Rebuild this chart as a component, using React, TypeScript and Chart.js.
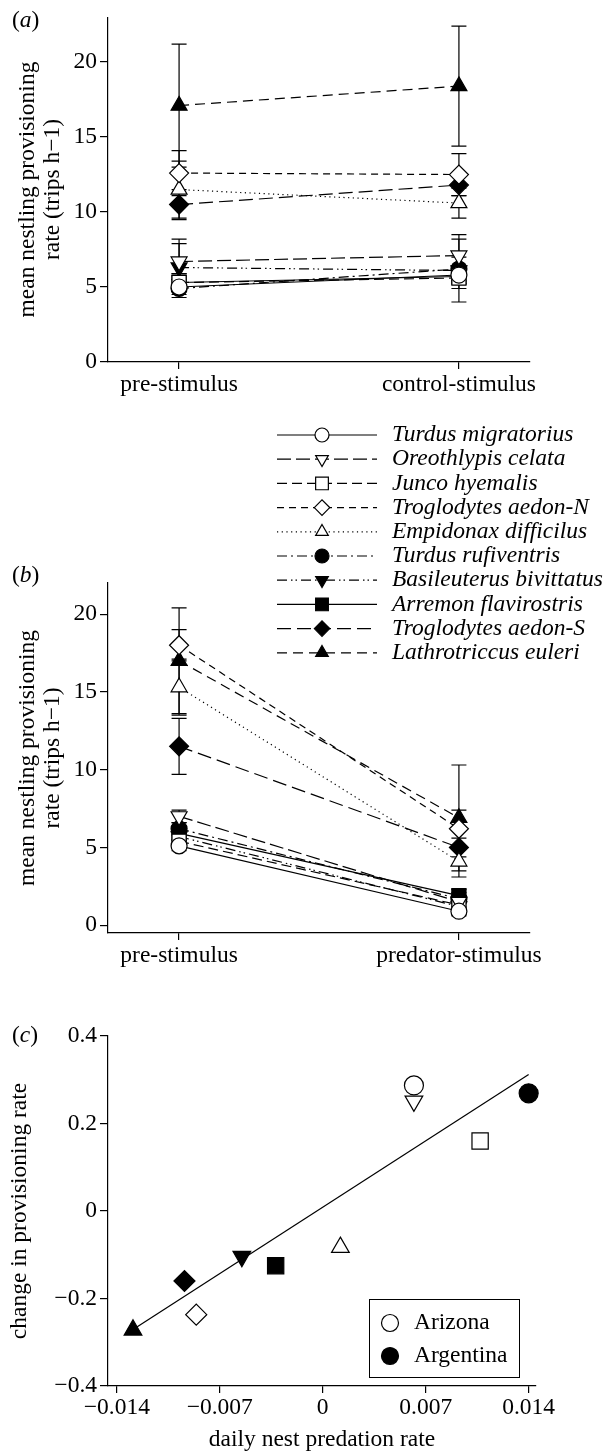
import React, { useEffect, useRef } from "react";
import { Chart, registerables } from "chart.js";
import { drawPoint } from "chart.js/helpers";

Chart.register(...registerables);

// ---------------- data ----------------
const species = [
  "Turdus migratorius",
  "Oreothlypis celata",
  "Junco hyemalis",
  "Troglodytes aedon-N",
  "Empidonax difficilus",
  "Turdus rufiventris",
  "Basileuterus bivittatus",
  "Arremon flavirostris",
  "Troglodytes aedon-S",
  "Lathrotriccus euleri",
];
const speciesRegion = [
  "Arizona", "Arizona", "Arizona", "Arizona", "Arizona",
  "Argentina", "Argentina", "Argentina", "Argentina", "Argentina",
];
const markerShapes = ["circle", "triangle", "rect", "rectRot", "triangle", "circle", "triangle", "rect", "rectRot", "triangle"];
const markerRotations = [0, 180, 0, 0, 0, 0, 180, 0, 0, 0];
const lineDashes: number[][] = [
  [],
  [14, 5],
  [10, 5],
  [7, 5],
  [1.2, 3.5],
  [10, 4, 2, 4],
  [10, 4, 1.5, 3, 1.5, 4],
  [],
  [14, 6],
  [10, 6],
];

const conditionLabelsA = ["pre-stimulus", "control-stimulus"];
const conditionLabelsB = ["pre-stimulus", "predator-stimulus"];
const yTicksAB = [0, 5, 10, 15, 20];
const yTitleAB = ["mean nestling provisioning", "rate (trips h\u22121)"];

// panel (a)
const preA = [5.0, 6.7, 5.3, 12.6, 11.5, 4.9, 6.3, 5.3, 10.5, 17.1];
const preAErr = [0.5, 1.5, 0.6, 1.5, 1.9, 0.6, 1.6, 0.6, 1.0, 4.1];
const controlA = [5.8, 7.1, 5.6, 12.5, 10.6, 6.2, 6.1, 5.7, 11.8, 18.4];
const controlAErr = [0.6, 1.4, 0.7, 1.4, 1.0, 0.8, 2.1, 0.5, 0.7, 4.0];

// panel (b)
const preB = [5.1, 7.0, 5.4, 18.0, 15.3, 6.2, 5.7, 5.9, 11.5, 17.0];
const preBErr = [0.3, 0.4, 0.4, 1.0, 1.8, 0.4, 0.4, 0.4, 1.8, 3.4];
const predatorB = [0.9, 1.5, 1.3, 6.2, 4.1, 1.7, 1.2, 1.9, 5.0, 6.9];
const predatorBErr = [0.3, 0.4, 0.4, 1.2, 1.0, 0.4, 0.3, 0.4, 0.6, 3.4];

// panel (c)
const predationRate = [0.0062, 0.0062, 0.0107, -0.0086, 0.0012, 0.014, -0.0055, -0.0032, -0.0094, -0.0129];
const provisioningChange = [0.287, 0.251, 0.16, -0.237, -0.083, 0.269, -0.104, -0.125, -0.16, -0.272];
const fitLineX = [-0.0129, 0.014];
const fitLineY = [-0.271, 0.312];
const xTicksC = [-0.014, -0.007, 0, 0.007, 0.014];
const yTicksC = [-0.4, -0.2, 0, 0.2, 0.4];
const legendRegions = ["Arizona", "Argentina"];
const legendRegionFilled = [false, true];

// ---------------- styling ----------------
const FONT = "'Liberation Serif', 'Times New Roman', serif";
const FS = 23.5;
const BLACK = "#000";
const LW = 1.2;

const radiusAB: Record<string, number> = { circle: 8, triangle: 9.2, rect: 10, rectRot: 9.5 };
const radiusLegend: Record<string, number> = { circle: 7, triangle: 7.3, rect: 9, rectRot: 7.7 };
const radiusC: Record<string, number> = { circle: 9.5, triangle: 10.2, rect: 11.5, rectRot: 10.5 };

const isFilled = (i: number) => speciesRegion[i] === "Argentina";

const fmt = (v: number) => {
  const r = Math.round(v * 1000) / 1000;
  if (r === 0) return "0";
  return r < 0 ? "\u2212" + String(Math.abs(r)) : String(r);
};

const tickFont = { family: FONT, size: FS };

function errorBarPlugin(errs: number[][]) {
  return {
    id: "errorBars",
    beforeDatasetsDraw(chart: any) {
      const { ctx, scales } = chart;
      const xs = scales.x;
      const ys = scales.y;
      ctx.save();
      ctx.setLineDash([]);
      ctx.strokeStyle = BLACK;
      ctx.lineWidth = LW;
      chart.data.datasets.forEach((ds: any, i: number) => {
        ds.data.forEach((pt: any, j: number) => {
          const e = errs[j][i];
          const px = xs.getPixelForValue(pt.x);
          const y1 = ys.getPixelForValue(pt.y + e);
          const y2 = ys.getPixelForValue(pt.y - e);
          ctx.beginPath();
          ctx.moveTo(px, y1);
          ctx.lineTo(px, y2);
          ctx.moveTo(px - 7.5, y1);
          ctx.lineTo(px + 7.5, y1);
          ctx.moveTo(px - 7.5, y2);
          ctx.lineTo(px + 7.5, y2);
          ctx.stroke();
        });
      });
      ctx.restore();
    },
  };
}

const speciesLegendPlugin = {
  id: "speciesLegend",
  afterDraw(chart: any) {
    const ctx = chart.ctx;
    const top = 25;
    const step = 24.2;
    species.forEach((name, i) => {
      const y = top + i * step;
      ctx.save();
      ctx.strokeStyle = BLACK;
      ctx.lineWidth = LW;
      ctx.setLineDash(lineDashes[i]);
      ctx.beginPath();
      ctx.moveTo(277, y);
      ctx.lineTo(377, y);
      ctx.stroke();
      ctx.restore();

      ctx.save();
      ctx.setLineDash([]);
      ctx.strokeStyle = BLACK;
      ctx.lineWidth = LW;
      ctx.fillStyle = isFilled(i) ? BLACK : "#fff";
      drawPoint(ctx, { pointStyle: markerShapes[i] as any, rotation: markerRotations[i], radius: radiusLegend[markerShapes[i]], borderWidth: LW } as any, 322, y);
      ctx.restore();

      ctx.save();
      ctx.fillStyle = BLACK;
      ctx.font = `italic ${FS}px ${FONT}`;
      ctx.textAlign = "left";
      ctx.textBaseline = "middle";
      ctx.fillText(name, 392, y);
      ctx.restore();
    });
  },
};

const regionLegendPlugin = {
  id: "regionLegend",
  afterDraw(chart: any) {
    const ctx = chart.ctx;
    ctx.save();
    ctx.strokeStyle = BLACK;
    ctx.lineWidth = 1;
    ctx.setLineDash([]);
    ctx.strokeRect(369.5, 299.5, 150, 78);
    legendRegions.forEach((name, i) => {
      const y = 323 + i * 33;
      ctx.save();
      ctx.strokeStyle = BLACK;
      ctx.lineWidth = LW;
      ctx.fillStyle = legendRegionFilled[i] ? BLACK : "#fff";
      drawPoint(ctx, { pointStyle: "circle", rotation: 0, radius: 8.5, borderWidth: LW } as any, 390, y);
      ctx.restore();
      ctx.fillStyle = BLACK;
      ctx.font = `${FS}px ${FONT}`;
      ctx.textAlign = "left";
      ctx.textBaseline = "middle";
      ctx.fillText(name, 414, y);
    });
    ctx.restore();
  },
};

function axisCommon(tickLength: number) {
  return {
    grid: { display: true, drawOnChartArea: false, drawTicks: true, tickLength, color: BLACK, lineWidth: LW },
    border: { display: true, color: BLACK, width: LW },
  };
}

function pairedConfig(
  pre: number[],
  post: number[],
  preErr: number[],
  postErr: number[],
  labels: string[],
  yMin: number,
  yMax: number,
  padTop: number,
  extraPlugins: any[]
): any {
  return {
    type: "scatter",
    data: {
      datasets: species.map((name, i) => ({
        label: name,
        data: [
          { x: 0, y: pre[i] },
          { x: 1, y: post[i] },
        ],
        showLine: true,
        borderColor: BLACK,
        borderWidth: LW,
        borderDash: lineDashes[i],
        pointStyle: markerShapes[i],
        rotation: markerRotations[i],
        pointRadius: radiusAB[markerShapes[i]],
        pointBackgroundColor: isFilled(i) ? BLACK : "#fff",
        pointBorderColor: BLACK,
        pointBorderWidth: LW,
        clip: false,
      })),
    },
    options: {
      responsive: false,
      animation: false,
      events: [],
      layout: { padding: { top: padTop, right: 85, left: 0, bottom: 0 } },
      plugins: { legend: { display: false }, tooltip: { enabled: false } },
      scales: {
        x: {
          type: "linear",
          min: -0.254,
          max: 1.254,
          afterBuildTicks: (s: any) => {
            s.ticks = labels.map((_, k) => ({ value: k }));
          },
          afterFit: (s: any) => {
            s.height = 58;
          },
          ticks: {
            font: tickFont,
            color: BLACK,
            padding: 2,
            maxRotation: 0,
            autoSkip: false,
            callback: (v: number) => labels[v],
          },
          ...axisCommon(7),
        },
        y: {
          type: "linear",
          min: yMin,
          max: yMax,
          afterBuildTicks: (s: any) => {
            s.ticks = yTicksAB.map((v) => ({ value: v }));
          },
          afterFit: (s: any) => {
            s.width = 108;
          },
          ticks: { font: tickFont, color: BLACK, padding: 3, callback: (v: number) => fmt(v) },
          title: {
            display: true,
            text: yTitleAB,
            color: BLACK,
            font: { family: FONT, size: FS, lineHeight: 25 / FS },
            padding: { top: 15.5, bottom: 0 },
          },
          ...axisCommon(8),
        },
      },
    },
    plugins: [errorBarPlugin([preErr, postErr]), ...extraPlugins],
  };
}

function scatterConfig(): any {
  const sets: any[] = species.map((name, i) => ({
    label: name,
    data: [{ x: predationRate[i], y: provisioningChange[i] }],
    pointStyle: markerShapes[i],
    rotation: markerRotations[i],
    pointRadius: radiusC[markerShapes[i]],
    pointBackgroundColor: isFilled(i) ? BLACK : "#fff",
    pointBorderColor: BLACK,
    pointBorderWidth: LW,
    order: 1,
    clip: false,
  }));
  sets.push({
    label: "fit",
    data: fitLineX.map((x, k) => ({ x, y: fitLineY[k] })),
    showLine: true,
    borderColor: BLACK,
    borderWidth: LW,
    pointRadius: 0,
    order: 100,
  });
  return {
    type: "scatter",
    data: { datasets: sets },
    options: {
      responsive: false,
      animation: false,
      events: [],
      layout: { padding: { top: 36, right: 79, left: 0, bottom: 0 } },
      plugins: { legend: { display: false }, tooltip: { enabled: false } },
      scales: {
        x: {
          type: "linear",
          min: -0.0146,
          max: 0.0145,
          afterBuildTicks: (s: any) => {
            s.ticks = xTicksC.map((v) => ({ value: v }));
          },
          afterFit: (s: any) => {
            s.height = 66;
          },
          ticks: { font: tickFont, color: BLACK, padding: 1, maxRotation: 0, autoSkip: false, callback: (v: number) => fmt(v) },
          title: {
            display: true,
            text: "daily nest predation rate",
            color: BLACK,
            font: { family: FONT, size: FS, lineHeight: 25 / FS },
            padding: { top: 0, bottom: 0 },
          },
          ...axisCommon(7),
        },
        y: {
          type: "linear",
          min: -0.4,
          max: 0.4,
          afterBuildTicks: (s: any) => {
            s.ticks = yTicksC.map((v) => ({ value: v }));
          },
          afterFit: (s: any) => {
            s.width = 108;
          },
          ticks: { font: tickFont, color: BLACK, padding: 3, callback: (v: number) => fmt(v) },
          title: {
            display: true,
            text: "change in provisioning rate",
            color: BLACK,
            font: { family: FONT, size: FS, lineHeight: 25 / FS },
            padding: { top: 7.5, bottom: 0 },
          },
          ...axisCommon(8),
        },
      },
    },
    plugins: [regionLegendPlugin],
  };
}

const A_TOP = 0, A_H = 420;
const B_TOP = 410, B_H = 581;
const C_TOP = 1000, C_H = 452;

export default function App() {
  const refA = useRef<HTMLCanvasElement>(null);
  const refB = useRef<HTMLCanvasElement>(null);
  const refC = useRef<HTMLCanvasElement>(null);

  useEffect(() => {
    document.body.style.margin = "0";
    const charts = [
      new Chart(refA.current!, pairedConfig(preA, controlA, preAErr, controlAErr, conditionLabelsA, 0, 23, 12, [])),
      new Chart(refB.current!, pairedConfig(preB, predatorB, preBErr, predatorBErr, conditionLabelsB, -0.5, 22, 173, [speciesLegendPlugin])),
      new Chart(refC.current!, scatterConfig()),
    ];
    return () => charts.forEach((c) => c.destroy());
  }, []);

  const canvasStyle = (top: number, h: number): React.CSSProperties => ({
    position: "absolute",
    left: 0,
    top,
    width: 615,
    height: h,
  });
  const labelStyle = (top: number): React.CSSProperties => ({
    position: "absolute",
    left: 12,
    top,
    fontFamily: FONT,
    fontSize: FS,
    lineHeight: "25px",
    color: BLACK,
  });

  return (
    <div style={{ position: "absolute", left: 0, top: 0, width: 615, height: 1452, background: "#fff" }}>
      <canvas ref={refA} width={615} height={A_H} style={canvasStyle(A_TOP, A_H)} />
      <canvas ref={refB} width={615} height={B_H} style={canvasStyle(B_TOP, B_H)} />
      <canvas ref={refC} width={615} height={C_H} style={canvasStyle(C_TOP, C_H)} />
      <span style={labelStyle(7)}>
        (<i>a</i>)
      </span>
      <span style={labelStyle(562)}>
        (<i>b</i>)
      </span>
      <span style={labelStyle(1022)}>
        (<i>c</i>)
      </span>
    </div>
  );
}
